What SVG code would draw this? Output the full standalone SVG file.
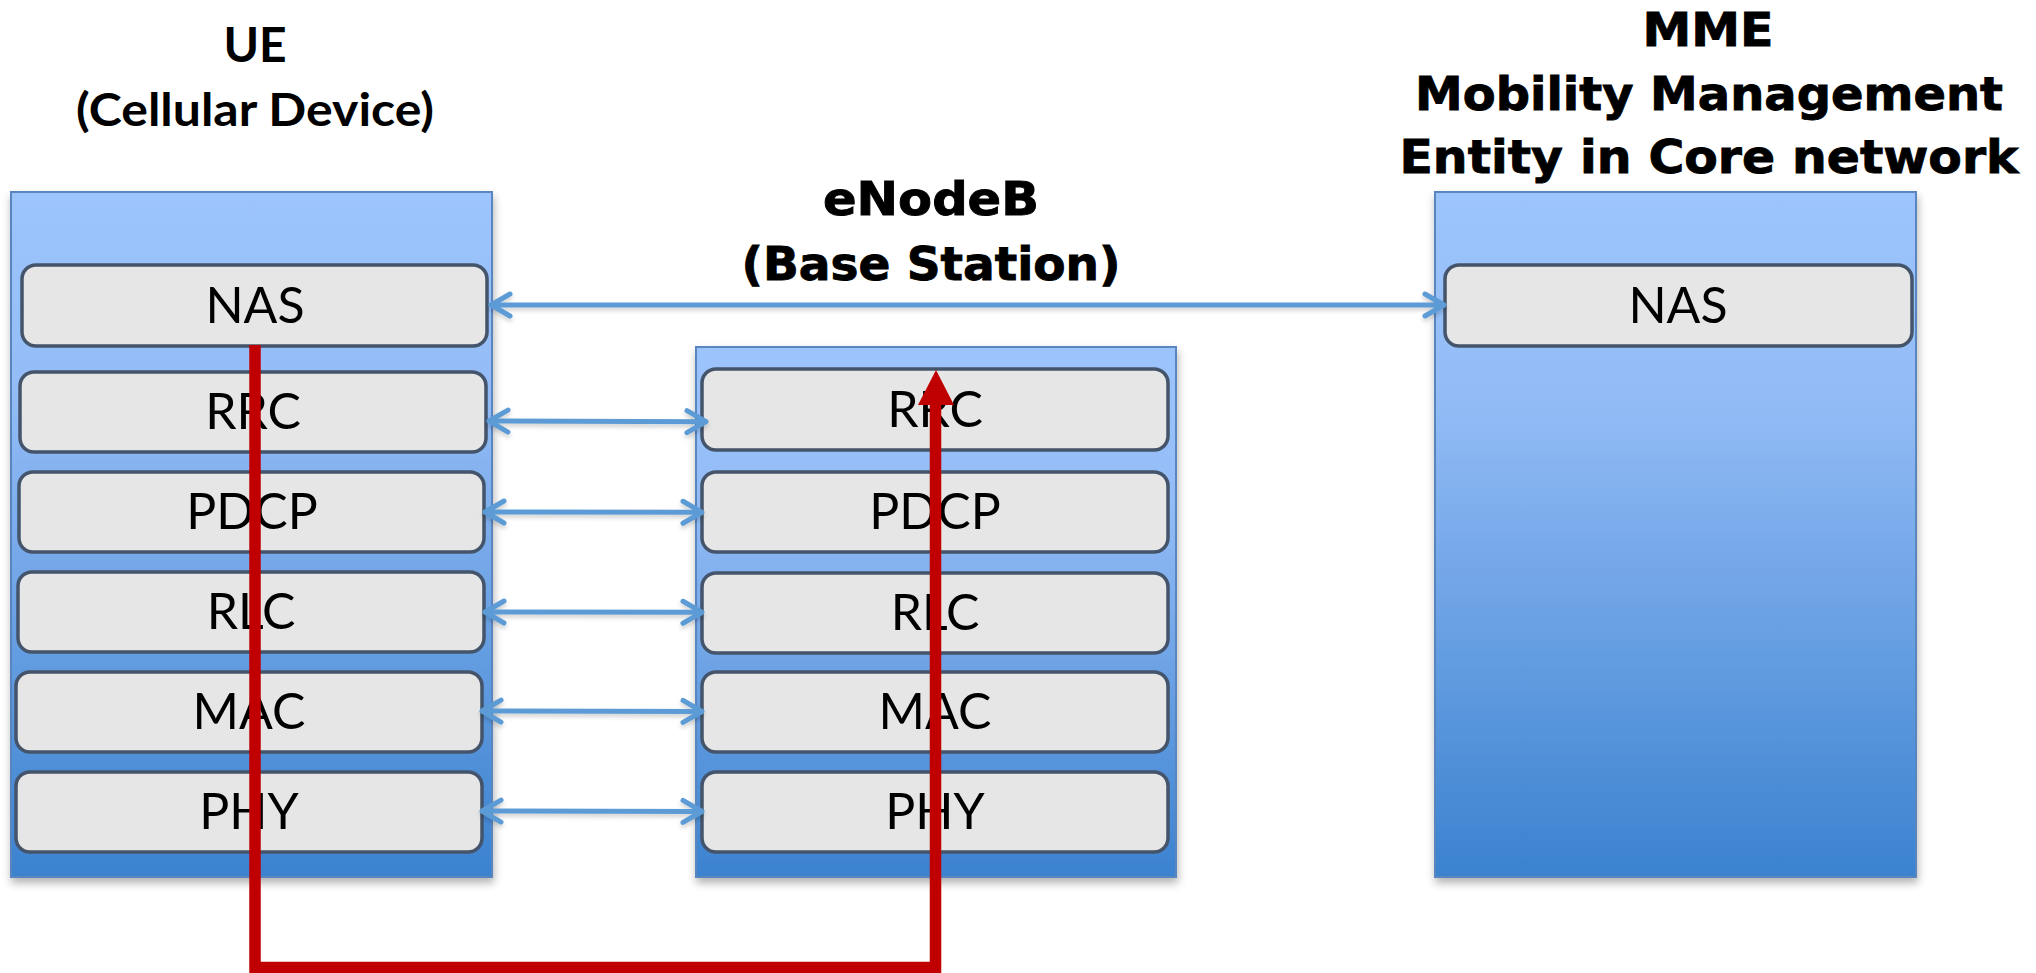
<svg xmlns="http://www.w3.org/2000/svg" width="2036" height="973" viewBox="0 0 2036 973">
  <style>
    .stack { stroke: #5a86c0; stroke-width: 2; filter: url(#shadow); }
    .layer { fill: #e6e6e6; stroke: #44546a; stroke-width: 3.5; }
    .lbl { font-family: "Lato", "Liberation Sans", sans-serif; font-size: 50px; fill: #000; text-anchor: middle; }
    .ttl { font-family: "Lato", "Liberation Sans", sans-serif; font-weight: 700; fill: #000; text-anchor: middle; }
    .ttl-heavy { font-family: "DejaVu Sans", "Liberation Sans", sans-serif; font-weight: 700; font-size: 47px; fill: #000; stroke: #000; stroke-width: 0.9; text-anchor: middle; }
    .link { fill: none; stroke: #5b9bd5; stroke-width: 5; marker-start: url(#chev); marker-end: url(#chev); }
    .flow { fill: none; stroke: #c00000; stroke-width: 11.5; stroke-linejoin: miter; }
  </style>
  <defs>
    <linearGradient id="stackFill" x1="0" y1="0" x2="0" y2="1">
      <stop offset="0" stop-color="#9dc4fc"/>
      <stop offset="0.3" stop-color="#93bcf6"/>
      <stop offset="1" stop-color="#3b82cf"/>
    </linearGradient>
    <filter id="shadow" x="-5%" y="-5%" width="112%" height="112%">
      <feDropShadow dx="1" dy="5" stdDeviation="4" flood-color="#000" flood-opacity="0.3"/>
    </filter>
    <filter id="soft" x="-5%" y="-50%" width="110%" height="200%">
      <feDropShadow dx="0" dy="3" stdDeviation="2" flood-color="#000" flood-opacity="0.18"/>
    </filter>
    <marker id="chev" viewBox="-26 -15 30 30" refX="0" refY="0" markerWidth="30" markerHeight="30" markerUnits="userSpaceOnUse" orient="auto-start-reverse">
      <path d="M-19,-11 L0,0 L-19,11" fill="none" stroke="#5b9bd5" stroke-width="5" stroke-linecap="round" stroke-linejoin="round"/>
    </marker>
  </defs>

  <rect width="2036" height="973" fill="#fff"/>

  <!-- UE protocol stack -->
  <g id="ue">
    <text class="ttl" font-size="48" x="255" y="62">UE</text>
    <text class="ttl" font-size="46" x="255" y="126" textLength="358" lengthAdjust="spacingAndGlyphs">(Cellular Device)</text>
    <rect class="stack" x="11" y="192" width="481" height="685" fill="url(#stackFill)"/>
    <g id="ue-nas"><rect class="layer" x="22" y="265" width="465" height="81" rx="14"/><text class="lbl" x="255" y="323">NAS</text></g>
    <g id="ue-rrc"><rect class="layer" x="20" y="372" width="466" height="80" rx="14"/><text class="lbl" x="253" y="429">RRC</text></g>
    <g id="ue-pdcp"><rect class="layer" x="19" y="472" width="465" height="80" rx="14"/><text class="lbl" x="252" y="529">PDCP</text></g>
    <g id="ue-rlc"><rect class="layer" x="18" y="572" width="466" height="80" rx="14"/><text class="lbl" x="251" y="629">RLC</text></g>
    <g id="ue-mac"><rect class="layer" x="16" y="672" width="466" height="80" rx="14"/><text class="lbl" x="249" y="729">MAC</text></g>
    <g id="ue-phy"><rect class="layer" x="16" y="772" width="466" height="80" rx="14"/><text class="lbl" x="249" y="829">PHY</text></g>
  </g>

  <!-- eNodeB protocol stack -->
  <g id="enodeb">
    <text class="ttl-heavy" x="931" y="215" textLength="216" lengthAdjust="spacingAndGlyphs">eNodeB</text>
    <text class="ttl-heavy" x="931" y="280" textLength="379" lengthAdjust="spacingAndGlyphs">(Base Station)</text>
    <rect class="stack" x="696" y="347" width="480" height="530" fill="url(#stackFill)"/>
    <g id="enb-rrc"><rect class="layer" x="702" y="369" width="466" height="81" rx="14"/><text class="lbl" x="935" y="427">RRC</text></g>
    <g id="enb-pdcp"><rect class="layer" x="702" y="472" width="466" height="80" rx="14"/><text class="lbl" x="935" y="529">PDCP</text></g>
    <g id="enb-rlc"><rect class="layer" x="702" y="573" width="466" height="80" rx="14"/><text class="lbl" x="935" y="630">RLC</text></g>
    <g id="enb-mac"><rect class="layer" x="702" y="672" width="466" height="80" rx="14"/><text class="lbl" x="935" y="729">MAC</text></g>
    <g id="enb-phy"><rect class="layer" x="702" y="772" width="466" height="80" rx="14"/><text class="lbl" x="935" y="829">PHY</text></g>
  </g>

  <!-- MME in the core network -->
  <g id="mme">
    <text class="ttl-heavy" x="1708" y="46" textLength="131" lengthAdjust="spacingAndGlyphs">MME</text>
    <text class="ttl-heavy" x="1709" y="110" textLength="588" lengthAdjust="spacingAndGlyphs">Mobility Management</text>
    <text class="ttl-heavy" x="1709" y="173" textLength="619" lengthAdjust="spacingAndGlyphs">Entity in Core network</text>
    <rect class="stack" x="1435" y="192" width="481" height="685" fill="url(#stackFill)"/>
    <g id="mme-nas"><rect class="layer" x="1445" y="265" width="467" height="81" rx="14"/><text class="lbl" x="1678" y="323">NAS</text></g>
  </g>

  <!-- peer-to-peer links and the signalling path -->
  <g id="connectors">
    <g filter="url(#soft)">
      <line class="link" x1="491" y1="305" x2="1444" y2="305"/>
      <line class="link" x1="489" y1="421" x2="706" y2="421.7"/>
      <line class="link" x1="485" y1="512" x2="702" y2="512.3"/>
      <line class="link" x1="485" y1="612" x2="702" y2="612.3"/>
      <line class="link" x1="482" y1="711" x2="702" y2="711.5"/>
      <line class="link" x1="482" y1="811" x2="702" y2="811.5"/>
    </g>
    <path class="flow" d="M255,345 V967.5 H935.5 V402"/>
    <polygon points="936,370 918,405 954,405" fill="#c00000"/>
  </g>
</svg>
